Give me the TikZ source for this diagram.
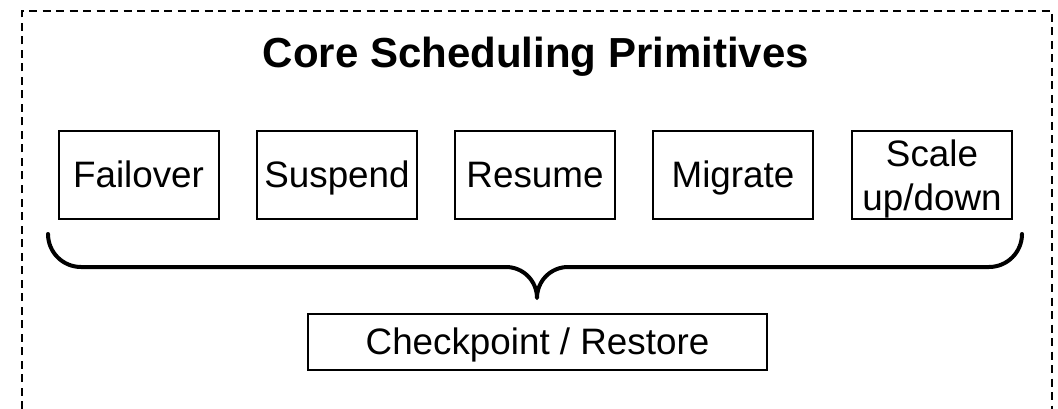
\documentclass[tikz,border=0pt]{standalone}
\usepackage{fontspec}
\setmainfont{Liberation Sans}
\begin{document}
\begin{tikzpicture}[x=1pt,y=1pt,
  frame/.style={line width=2pt, dash pattern=on 8pt off 5.5pt},
  heading/.style={font=\fontsize{42}{48}\bfseries\selectfont, anchor=base, inner sep=0pt},
  prim/.style={draw, line width=2pt, minimum width=160pt, minimum height=88pt,
    inner sep=0pt, align=center, font=\fontsize{36.8}{44}\selectfont,
    text height=27pt, text depth=3pt},
  twoline/.style={text height=78pt, text depth=7.7pt},
  base/.style={draw, line width=2pt, minimum width=459pt, minimum height=56pt,
    inner sep=0pt, font=\fontsize{36.8}{44}\selectfont,
    text height=27pt, text depth=3pt},
  brace/.style={line width=4pt, line cap=round, line join=round}]
  \useasboundingbox (0,0) rectangle (1058,-409);

  % dashed enclosure, open at the bottom
  \draw[frame] (22,-409) -- (22,-11) -- (1052,-11) -- (1052,-409);

  \node[heading] (title) at (536,-68) {Core Scheduling Primitives};

  % primitives
  \node[prim] (failover) at (138.5,-175) {Failover};
  \node[prim] (suspend)  at (337,-175)   {Suspend};
  \node[prim] (resume)   at (535,-175)   {Resume};
  \node[prim] (migrate)  at (733,-175)   {Migrate};
  \node[prim, twoline] (scale) at (932,-175) {Scale\\up/down};

  % common mechanism
  \node[base] (ckpt) at (537.5,-342) {Checkpoint / Restore};

  % curly brace gathering the primitives
  \coordinate (bl) at (48,-234);
  \draw[brace] (bl) arc[start angle=180, end angle=270, radius=33pt]
    -- (506,-267) arc[start angle=90, end angle=0, radius=31pt]
    arc[start angle=180, end angle=90, radius=31pt]
    -- (989,-267) arc[start angle=270, end angle=360, radius=33pt];
\end{tikzpicture}
\end{document}
